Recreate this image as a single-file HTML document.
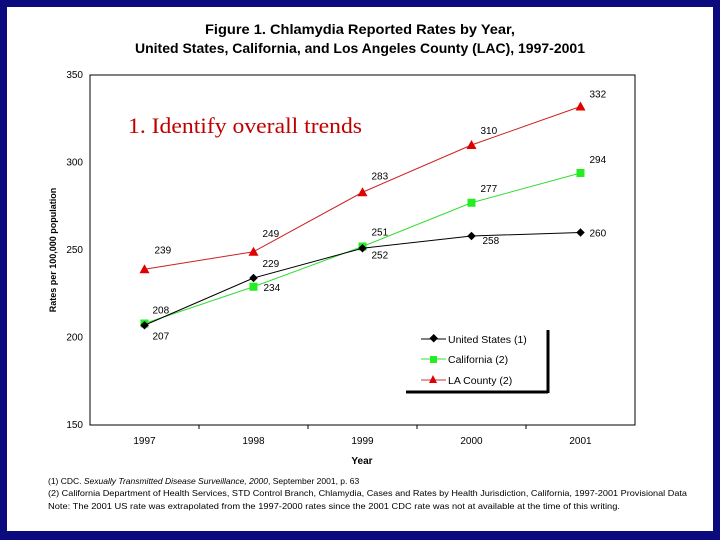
<!DOCTYPE html>
<html><head><meta charset="utf-8"><style>
body{margin:0;width:720px;height:540px;overflow:hidden;background:#fff}
svg{display:block}
text{font-family:"Liberation Sans",Arial,sans-serif}
</style></head><body>
<svg id="c" width="720" height="540" xmlns="http://www.w3.org/2000/svg">
<rect x="0" y="0" width="720" height="540" fill="#0b0b7e"/>
<rect x="7" y="7" width="706" height="524" fill="#fff"/>
<text x="360" y="34" text-anchor="middle" font-size="14" font-weight="bold" textLength="310" lengthAdjust="spacingAndGlyphs">Figure 1. Chlamydia Reported Rates by Year,</text>
<text x="360" y="53" text-anchor="middle" font-size="14" font-weight="bold" textLength="450" lengthAdjust="spacingAndGlyphs">United States, California, and Los Angeles County (LAC), 1997-2001</text>
<rect x="90" y="75" width="545" height="350" fill="none" stroke="#000" stroke-width="1"/>
<g id="axes"></g>
<g id="series"></g>
<text x="128" y="133" font-size="22" fill="#c00000" textLength="234" lengthAdjust="spacingAndGlyphs" style="font-family:'Liberation Serif',serif">1. Identify overall trends</text>
<text transform="translate(56,250) rotate(-90)" text-anchor="middle" font-size="9" font-weight="bold">Rates per 100,000 population</text>
<text x="362" y="464" text-anchor="middle" font-size="10" font-weight="bold">Year</text>
<g>
<line x1="406" y1="392" x2="548" y2="392" stroke="#000" stroke-width="3"/>
<line x1="548" y1="330" x2="548" y2="393" stroke="#000" stroke-width="3"/>
<g><line x1="421" y1="339" x2="446" y2="339" stroke="#000"/><rect x="430" y="335" width="6" height="6" transform="rotate(45 433 339)" fill="#000"/><text x="448" y="343" font-size="10.5">United States (1)</text></g>
<g><line x1="421" y1="359" x2="446" y2="359" stroke="#33dd33"/><rect x="430" y="356" width="7" height="7" fill="#22ee22"/><text x="448" y="363" font-size="10.5">California (2)</text></g>
<g><line x1="421" y1="380" x2="446" y2="380" stroke="#cc3333"/><polygon points="433,375 437,383 429,383" fill="#e00000"/><text x="448" y="384" font-size="10.5">LA County (2)</text></g>
</g>
<g font-size="8.5">
<text x="48" y="484">(1) CDC. <tspan font-style="italic">Sexually Transmitted Disease Surveillance, 2000</tspan>, September 2001, p. 63</text>
<text x="48" y="496" textLength="639" lengthAdjust="spacingAndGlyphs">(2) California Department of Health Services, STD Control Branch, Chlamydia, Cases and Rates by Health Jurisdiction, California, 1997-2001 Provisional Data</text>
<text x="48" y="509" textLength="572" lengthAdjust="spacingAndGlyphs">Note: The 2001 US rate was extrapolated from the 1997-2000 rates since the 2001 CDC rate was not at available at the time of this writing.</text>
</g>
</svg>
<script>
const years=["1997","1998","1999","2000","2001"];
const yTicks=[150,200,250,300,350];
const usVals=[207,234,251,258,260];
const caVals=[208,229,252,277,294];
const laVals=[239,249,283,310,332];
const usLabels=["207","229","251","258","260"];
const caLabels=["208","234","252","277","294"];
const laLabels=["239","249","283","310","332"];
const NS="http://www.w3.org/2000/svg";
const X0=90,W=545,Y0=425,Y1=75,vmin=150,vmax=350;
function xs(i){return X0+W/years.length*(i+0.5);}
function ys(v){return Y0-(v-vmin)/(vmax-vmin)*(Y0-Y1);}
function mk(tag,a,p){const e=document.createElementNS(NS,tag);for(const k in a)e.setAttribute(k,a[k]);p.appendChild(e);return e;}
const ax=document.getElementById('axes'),sg=document.getElementById('series');
yTicks.forEach(t=>{const e=mk('text',{x:83,y:ys(t)+3,'text-anchor':'end','font-size':10},ax);e.textContent=t;

});
years.forEach((y,i)=>{const e=mk('text',{x:xs(i),y:444,'text-anchor':'middle','font-size':10},ax);e.textContent=y;


if(i>0){const l=mk('line',{x1:X0+W/years.length*i,x2:X0+W/years.length*i,y1:425,y2:429,stroke:'#000'},ax);

}});
function series(vals,labels,color,shape,name,offs){
const pts=vals.map((v,i)=>xs(i)+','+ys(v)).join(' ');
const pl=mk('polyline',{points:pts,fill:'none',stroke:color,'stroke-width':1},sg);


vals.forEach((v,i)=>{const x=xs(i),y=ys(v);let m;
if(shape==='d')m=mk('rect',{x:x-3,y:y-3,width:6,height:6,transform:'rotate(45 '+x+' '+y+')',fill:color},sg);
else if(shape==='s')m=mk('rect',{x:x-4,y:y-4,width:8,height:8,fill:'#22ee22'},sg);
else m=mk('polygon',{points:(x)+','+(y-5)+' '+(x+5)+','+(y+4)+' '+(x-5)+','+(y+4),fill:'#e00000'},sg);


const t=mk('text',{x:x+offs[i][0],y:y+offs[i][1],'font-size':10},sg);t.textContent=labels[i];

});}
series(laVals,laLabels,'#cc2222','t','la-county',[[10,-16],[9,-15],[9,-13],[9,-11],[9,-9]]);
series(caVals,caLabels,'#33dd33','s','california',[[8,-10],[10,4],[9,12],[9,-11],[9,-10]]);
series(usVals,usLabels,'#000','d','united-states',[[8,14],[9,-11],[9,-13],[11,8],[9,4]]);
</script>
</body></html>
